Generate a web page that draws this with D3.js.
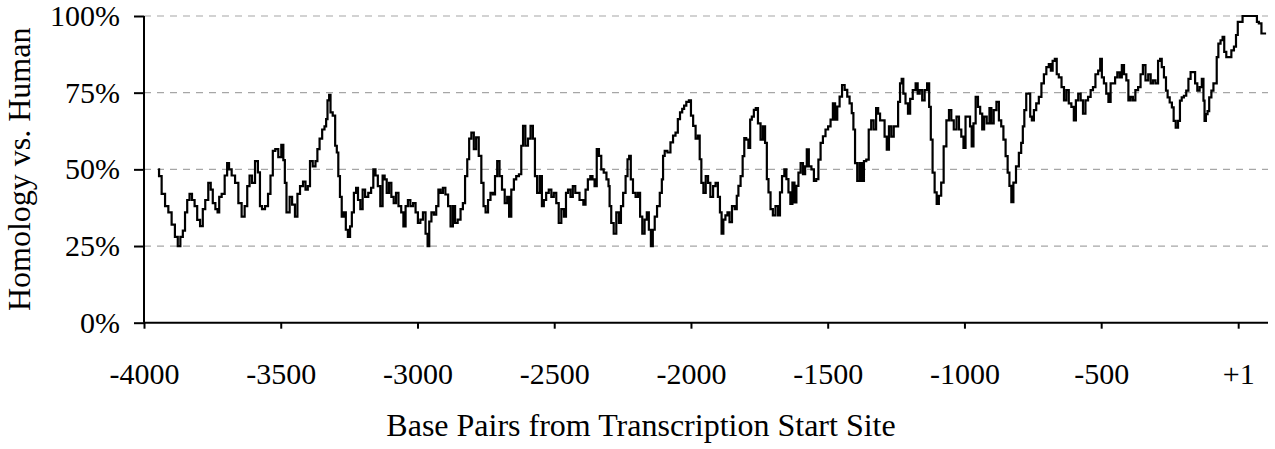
<!DOCTYPE html>
<html>
<head>
	<meta charset="utf-8">
	<title>Homology vs. Human</title>
	<script src="https://d3js.org/d3.v7.min.js"></script>
	<style>
		body { margin: 0; background: #fff; }
		text { font-family: "Liberation Serif", "Times New Roman", serif; fill: #000; }
	</style>
</head>
<body>
	<div class="chart"></div>

	<script type="text/javascript">

		// base pairs from the transcription start site (window centres)
		var position = [
			-3948, -3942, -3929, -3917, -3905, -3893, -3881, -3872, -3862, -3854, -3846, -3838, -3829, -3820, -3810, -3801,
			-3789, -3781, -3771, -3759, -3753, -3744, -3734, -3728, -3722, -3710, -3700, -3692, -3686, -3673, -3661, -3649,
			-3637, -3627, -3618, -3610, -3600, -3588, -3579, -3573, -3564, -3551, -3542, -3533, -3525, -3515, -3503, -3493,
			-3488, -3482, -3476,
			-3472, -3463, -3454, -3442, -3436, -3423, -3414, -3405, -3397, -3389, -3377, -3369, -3363, -3353, -3344, -3336,
			-3332, -3326, -3320, -3316, -3304, -3298, -3292, -3287, -3280, -3274, -3265, -3259, -3250, -3243, -3237, -3228,
			-3221, -3214, -3204, -3197, -3186, -3174, -3165, -3158, -3149, -3141, -3131, -3124, -3116, -3109, -3099, -3092,
			-3082, -3075, -3064, -3055, -3048, -3039, -3031, -3021, -3011, -3003, -2994, -2985, -2975, -2966, -2960, -2954,
			-2944, -2936, -2927, -2920, -2911, -2903, -2893, -2883, -2875, -2866, -2859, -2847, -2838, -2830, -2822, -2814,
			-2808, -2798, -2790, -2781, -2771, -2762, -2755, -2747, -2737, -2729, -2720, -2713, -2704, -2696, -2686, -2676,
			-2668, -2662, -2652, -2643, -2635, -2623, -2618, -2610, -2601, -2591, -2582, -2574, -2567, -2558, -2548, -2542,
			-2534, -2525, -2515, -2506, -2497, -2488, -2479, -2469, -2460, -2454, -2445, -2436, -2428, -2418,
			-2397, -2390, -2381, -2373, -2363, -2357, -2348, -2341, -2332, -2324, -2314, -2304, -2299, -2296, -2287, -2278,
			-2268, -2259, -2253, -2243, -2235, -2229, -2223, -2217, -2207, -2198, -2190, -2182, -2174, -2165, -2158, -2150,
			-2143, -2136, -2129, -2119, -2109, -2104, -2100, -2092, -2080, -2070, -2061, -2052, -2044, -2036, -2028, -2022,
			-2012, -2003, -1997, -1987, -1979, -1970, -1966, -1958, -1951, -1941, -1934, -1924, -1914, -1906, -1897, -1891,
			-1885, -1878, -1870, -1863,
			-1855, -1845, -1835, -1830, -1823, -1814, -1808, -1802, -1794, -1786, -1781, -1774, -1766, -1760, -1750, -1741,
			-1733, -1725, -1720, -1713, -1705, -1696, -1686, -1677, -1672, -1662, -1655, -1647, -1640, -1633, -1625, -1618,
			-1611, -1603, -1595, -1586, -1579, -1574, -1564, -1555, -1546, -1538, -1530, -1522, -1513, -1503, -1494, -1485,
			-1477, -1469, -1461, -1452, -1443, -1433, -1424, -1416, -1408, -1404, -1396, -1388, -1379, -1372, -1363, -1355,
			-1345, -1337, -1327, -1319, -1312, -1305, -1296, -1288, -1280, -1272, -1263, -1254, -1246, -1239, -1232, -1227,
			-1220, -1211, -1202, -1195, -1183, -1174, -1168, -1159, -1150, -1141, -1132, -1126, -1120, -1113, -1105, -1098,
			-1089, -1081, -1071, -1061, -1052, -1044, -1034, -1024, -1016, -1007, -1000, -992, -983, -976, -971, -963,
			-955, -946, -939, -931, -925, -912, -905, -898, -888, -878, -870, -861, -854, -845, -839, -832,
			-825, -817, -806, -796, -789, -784, -778, -770, -762, -757, -750, -742, -733, -723, -714, -705,
			-696, -687, -681, -674, -665, -660, -650, -640, -632, -623, -614, -604, -596, -589, -579, -571,
			-562, -553, -543, -534, -526, -516, -506, -501, -494, -486, -477, -470, -461, -453, -445, -437,
			-428, -421, -412, -404, -397, -388, -380, -370, -360, -352, -343, -333, -323, -315, -306, -297,
			-287, -282, -275, -266, -260, -254, -245, -238, -232, -223, -215, -209, -202, -193, -185, -177,
			-169, -160, -153, -144, -136, -128, -124, -120, -114, -108, -102, -92, -87, -80, -75, -68,
			-59, -53, -47, -38, -29, -19, -10, -4, 3, 14, 20, 45, 67, 72, 81, 91, 103
		]

		// homology vs. human (%)
		var homology = [
			50, 47.8, 42, 38, 36, 32, 28, 25, 28, 30, 36, 40, 42, 40, 38, 33.5,
			31.5, 37, 40, 45.6, 43.4, 39, 37, 36, 41, 42, 48, 52, 50, 48, 45.6, 39,
			34.6, 38, 44.5, 48, 45.6, 52.7, 49, 38, 37, 38, 42, 48, 56, 56.6, 54, 58,
			53, 45.6, 36,
			36, 41, 38.5, 34.6, 42, 44.5, 46, 43.4, 44.5, 52.7, 51, 52.7, 56.6, 60, 63, 64,
			66.4, 72.5, 74.3, 68.6, 67.5, 57.7, 55.5, 47.8, 41, 34.6, 36, 30.3, 28, 31.4, 36, 42.3,
			44, 40, 37, 43.4, 41, 42.3, 44, 50, 48, 44.5, 38, 48, 46.7, 42.3, 45.6, 41,
			39, 42.3, 38, 36, 31.4, 38, 40, 38, 39, 36, 32.5, 33.6, 36, 29, 25, 33,
			36, 35.2, 38, 43.4, 42.3, 44, 41.8, 38, 31.4, 38, 32.5, 33.6, 37, 39, 47.8, 53.3,
			60, 62, 56.6, 60.4, 54.4, 45.6, 38, 36, 40, 42.3, 41.8, 47.8, 52.7, 47.8, 43.4, 39,
			41, 34.6, 43.4, 46.7, 47.8, 48.4, 57.7, 64.2, 57.7, 60, 64.2, 60, 47.8, 42.3, 47.8, 38,
			40, 42.3, 43.4, 41, 42.3, 39, 32.5, 37, 34.6, 42.3, 43.4, 41, 44.5, 42.3,
			40, 38.5, 43.4, 46.7, 47.8, 46.7, 44.5, 56.6, 54.4, 50, 48.9, 46.7, 44.5, 38, 32.5, 29,
			36, 32.5, 38, 42.3, 47.8, 53.3, 54.4, 46.7, 42.3, 41, 42.3, 34.6, 29, 33.6, 36, 30.3,
			25, 30.3, 34.6, 38, 42.3, 46.7, 54.4, 56, 55.5, 58.8, 61, 62, 66.4, 68.6, 69.7, 70.8,
			72, 72.5, 67.5, 64.2, 60, 61, 53.3, 45.6, 42.3, 47.8, 45.6, 41, 44.5, 45.6, 41, 36,
			29, 33.6, 35, 36,
			32.8, 38, 37, 41.4, 44.6, 47.8, 54.3, 60.2, 59.7, 57, 66.2, 67.2, 69.4, 70, 65, 59.7,
			64, 58.6, 46.8, 42.5, 37, 35, 38, 35, 42.5, 47.8, 50, 46.8, 42.5, 38.7, 45.7, 39.2,
			44.6, 48.9, 52, 48.4, 51, 56.5, 51, 50, 46.2, 46.8, 53.2, 58.6, 60.8, 63, 64, 66.2,
			71.5, 66.2, 70.5, 73.7, 77.5, 75.9, 73.7, 71.5, 68.3, 63, 52, 46.2, 52, 46.2, 52.7, 53.2,
			63, 66, 63, 70, 68.2, 66, 66, 60.7, 56.4, 64, 60.7, 64, 64, 72, 78, 79.5,
			74.7, 71.5, 68.2, 73, 75.8, 78, 74.7, 75.8, 72.5, 75.8, 78, 70.4, 59.7, 48.9, 42.5, 38.7,
			41.4, 45.7, 57.5, 66, 69.3, 66, 63, 67.2, 63, 60.7, 57, 67.2, 67.2, 64, 57.5, 65,
			73.6, 70.4, 68.2, 63, 67.2, 65, 70, 65, 69.3, 72, 66, 64, 59.7, 54.3, 48.9, 44.6,
			39.3, 45.7, 51, 55.4, 58.6, 64, 69.3, 74.7, 74.7, 67.2, 66, 69.3, 71.5, 73.6, 78, 81,
			83.3, 84.3, 82.2, 85.4, 86, 81, 80, 76.8, 72.5, 75.8, 71.5, 70.4, 66, 72.5, 74.7, 72.5,
			68.2, 72.5, 73.6, 75.8, 76.8, 81, 82.2, 86, 80, 78, 74.7, 72, 78, 78, 80, 81.6,
			80, 84, 81, 79, 72.5, 73.6, 72.5, 75.8, 76.8, 81, 84, 79, 81, 78, 79, 78,
			85.4, 86, 83.3, 80, 75.7, 73.5, 71.8, 70.2, 65.8, 63.6, 65.8, 72.4, 73.5, 74, 75.7, 79.5,
			81.7, 81.7, 78, 75.7, 76.8, 79.5, 72.4, 65.8, 68, 69, 73.5, 75.7, 78, 78, 86.6, 91,
			92.1, 93.2, 88.3, 86.6, 86.6, 88.8, 90, 93.8, 98.1, 98.1, 100, 100, 100, 98.1, 97.6, 94.3, 94.3
		]

		var xTicks = [-4000, -3500, -3000, -2500, -2000, -1500, -1000, -500, 1]
		var yTicks = [0, 25, 50, 75, 100]

		var width = 1275
		var height = 449
		var plotLeft = 144
		var plotRight = 1268
		var plotTop = 16
		var plotBottom = 322.7

		var svg = d3
			.select('.chart')
			.append('svg')
			.attr('width', width)
			.attr('height', height)

		var dataArr = position.map((p, i) => ({ pos: p, value: homology[i] }))

		/**
		 * 比例尺
		 */
		var x = d3.scaleLinear().domain([-4000, 110]).range([plotLeft, plotRight])
		var y = d3.scaleLinear().domain([0, 100]).range([plotBottom, plotTop])

		// 网格线
		svg.append('g')
			.selectAll('line')
			.data(yTicks.filter((d) => d > 0))
			.enter()
			.append('line')
			.attr('x1', plotLeft)
			.attr('x2', plotRight)
			.attr('y1', (d) => y(d))
			.attr('y2', (d) => y(d))
			.attr('stroke', '#a6a6a6')
			.attr('stroke-width', 1.2)
			.attr('stroke-dasharray', '7,6')

		// 坐标轴
		var yAxis = svg.append('g')
			.attr('transform', `translate(${plotLeft}, 0)`)
			.call(d3.axisLeft(y).tickValues(yTicks).tickSize(10).tickPadding(14).tickFormat((d) => d + '%'))

		var xAxis = svg.append('g')
			.attr('transform', `translate(0, ${plotBottom})`)
			.call(d3.axisBottom(x).tickValues(xTicks).tickSize(6).tickPadding(34).tickFormat((d) => (d === 1 ? '+1' : d)))

		;[xAxis, yAxis].forEach((g) => {
			g.select('.domain').attr('stroke', '#000').attr('stroke-width', 2)
			g.selectAll('.tick line').attr('stroke', '#000').attr('stroke-width', 2)
			g.selectAll('.tick text')
				.style('font-family', '"Liberation Serif", serif')
				.style('font-size', '30px')
				.attr('fill', '#000')
		})
		// 去掉轴两端多余的外侧刻度
		yAxis.select('.domain').attr('d', `M0,${plotBottom}V${plotTop}`)
		xAxis.select('.domain').attr('d', `M${plotLeft},0H${plotRight}`)

		/**
		 * 折线（阶梯状，和原图的锯齿效果接近）
		 */
		var line = d3.line()
			.curve(d3.curveStep)
			.x((d) => x(d.pos))
			.y((d) => y(d.value))

		svg.append('path')
			.datum(dataArr)
			.attr('d', line)
			.attr('fill', 'none')
			.attr('stroke', '#000')
			.attr('stroke-width', 2.2)
			.attr('stroke-linejoin', 'miter')

		/**
		 * 轴标题
		 */
		svg.append('text')
			.attr('x', 641)
			.attr('y', 436)
			.attr('text-anchor', 'middle')
			.style('font-size', '32px')
			.text('Base Pairs from Transcription Start Site')

		svg.append('text')
			.attr('transform', `translate(30, ${(plotTop + plotBottom) / 2}) rotate(-90)`)
			.attr('text-anchor', 'middle')
			.style('font-size', '32px')
			.text('Homology vs. Human')

	</script>
</body>
</html>
